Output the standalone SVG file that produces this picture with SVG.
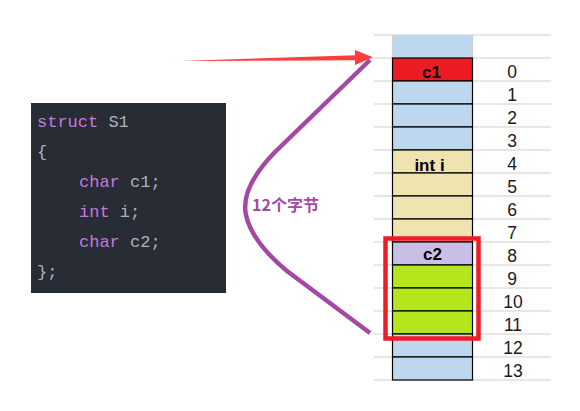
<svg xmlns="http://www.w3.org/2000/svg" width="580" height="411" viewBox="0 0 580 411">
<style>
.grid{stroke:#d0d0d0;stroke-width:1.2}
.cell{stroke:#000;stroke-width:1.2}
.blue{fill:#bdd7ee}.red{fill:#ed1c24}.tan{fill:#efe4b0}.lav{fill:#c8bfe7}.lime{fill:#b5e61d}
.lbl{font-family:"Liberation Sans",Arial,sans-serif;font-weight:bold;font-size:17px;fill:#000;text-anchor:middle}
.idx{font-family:"Liberation Sans",Arial,sans-serif;font-size:17.5px;fill:#1a1a1a;text-anchor:middle}
.code{font-family:"Liberation Mono","DejaVu Sans Mono",monospace;font-size:17px;fill:#abb2bf}
.kw{fill:#c678dd}
</style>
<rect width="580" height="411" fill="#fff"/>
<g id="grid">
<path class="grid" d="M374 35H551M374 58H551M374 81H551M374 104H551M374 127H551M374 150H551M374 173H551M374 196H551M374 219H551M374 242H551M374 265H551M374 288H551M374 311H551M374 334H551M374 357H551M374 380H551"/>
</g>
<g id="code">
<rect x="31" y="103" width="195" height="190" fill="#282c34"/>
<text class="code" x="37" y="127"><tspan class="kw">struct</tspan> S1</text>
<text class="code" x="37" y="157">{</text>
<text class="code" x="79" y="187"><tspan class="kw">char</tspan> c1;</text>
<text class="code" x="79" y="217"><tspan class="kw">int</tspan> i;</text>
<text class="code" x="79" y="247"><tspan class="kw">char</tspan> c2;</text>
<text class="code" x="37" y="277">};</text>
</g>
<g id="cell-top"><rect class="blue" x="392.5" y="35" width="80" height="23"/><path class="grid" d="M392.5 35V58M472.5 35V58"/></g>
<g id="cell0"><rect class="cell red" x="392.5" y="58" width="80" height="23"/><text class="lbl" x="431.5" y="77.5">c1</text><text class="idx" x="512" y="78">0</text></g>
<g id="cell1"><rect class="cell blue" x="392.5" y="81" width="80" height="23"/><text class="idx" x="512" y="101">1</text></g>
<g id="cell2"><rect class="cell blue" x="392.5" y="104" width="80" height="23"/><text class="idx" x="512" y="124">2</text></g>
<g id="cell3"><rect class="cell blue" x="392.5" y="127" width="80" height="23"/><text class="idx" x="512" y="147">3</text></g>
<g id="cell4"><rect class="cell tan" x="392.5" y="150" width="80" height="23"/><text class="lbl" x="429.5" y="170.5">int i</text><text class="idx" x="512" y="170">4</text></g>
<g id="cell5"><rect class="cell tan" x="392.5" y="173" width="80" height="23"/><text class="idx" x="512" y="193">5</text></g>
<g id="cell6"><rect class="cell tan" x="392.5" y="196" width="80" height="23"/><text class="idx" x="512" y="216">6</text></g>
<g id="cell7"><rect class="cell tan" x="392.5" y="219" width="80" height="23"/><text class="idx" x="512" y="239">7</text></g>
<g id="cell8"><rect class="cell lav" x="392.5" y="242" width="80" height="23"/><text class="lbl" x="432.5" y="260">c2</text><text class="idx" x="512" y="262">8</text></g>
<g id="cell9"><rect class="cell lime" x="392.5" y="265" width="80" height="23"/><text class="idx" x="512" y="285">9</text></g>
<g id="cell10"><rect class="cell lime" x="392.5" y="288" width="80" height="23"/><text class="idx" x="513" y="308">10</text></g>
<g id="cell11"><rect class="cell lime" x="392.5" y="311" width="80" height="23"/><text class="idx" x="513" y="331">11</text></g>
<g id="cell12"><rect class="cell blue" x="392.5" y="334" width="80" height="23"/><text class="idx" x="513" y="354">12</text></g>
<g id="cell13"><rect class="cell blue" x="392.5" y="357" width="80" height="23"/><text class="idx" x="513" y="377">13</text></g>
<g id="highlight"><rect x="385.5" y="238.5" width="93" height="100" fill="none" stroke="#ee1c25" stroke-width="4.5"/></g>
<g id="connectors">
<polygon points="180,61 356,55.2 356,60.2" fill="#fe3d3d"/>
<polygon points="355,50 373,57.3 355,65" fill="#fe3d3d"/>
<path d="M370 60 L275 152 Q240 188 246 215 Q252 242 287 271 L370 333" fill="none" stroke="#a349a4" stroke-width="4.5"/>
</g>
<g id="label"><text x="252" y="211" font-family="'Noto Sans CJK SC',sans-serif" font-weight="bold" font-size="16" fill="#a349a4">12个字节</text></g>
</svg>
